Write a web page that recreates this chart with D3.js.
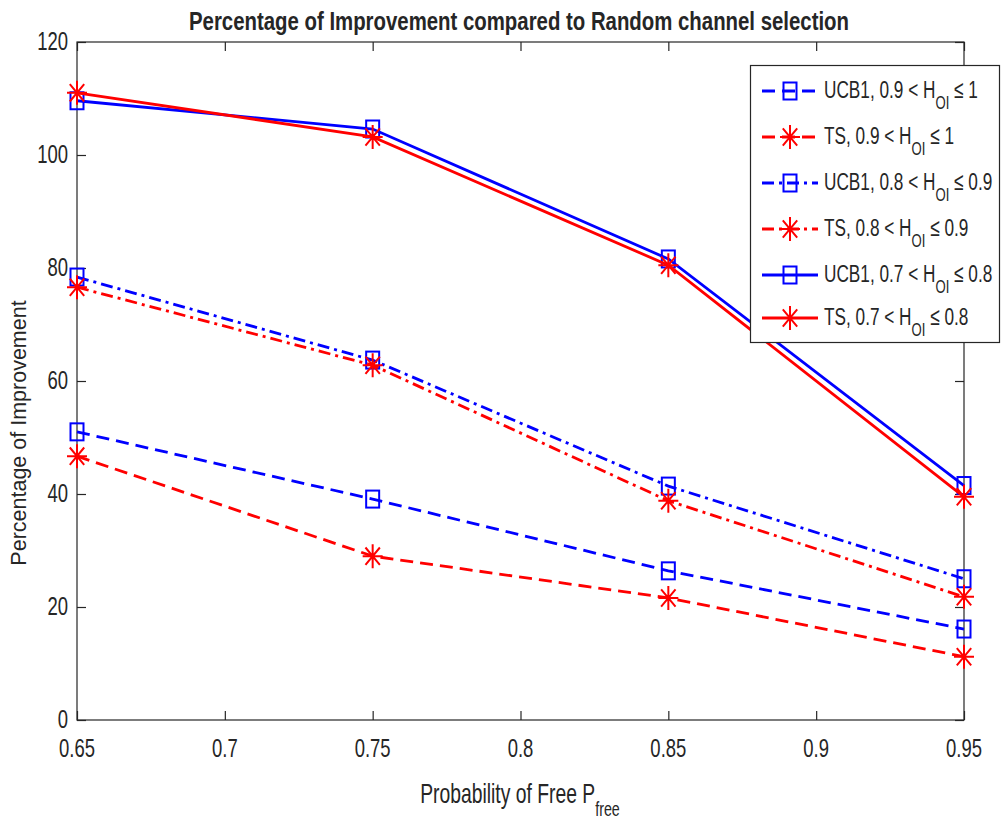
<!DOCTYPE html>
<html><head><meta charset="utf-8">
<script src="https://cdn.jsdelivr.net/npm/d3@7"></script>
<style>
body{margin:0;background:#fff;}
text{font-family:"Liberation Sans",Arial,sans-serif;fill:#262626;}
</style></head>
<body><svg id="c" width="1001" height="820"></svg>
<script>
const xValues = [0.65, 0.75, 0.85, 0.95];
const xTicks = [0.65, 0.7, 0.75, 0.8, 0.85, 0.9, 0.95];
const yTicks = [0, 20, 40, 60, 80, 100, 120];
const seriesNames = ["UCB1, 0.9 < H", "TS, 0.9 < H", "UCB1, 0.8 < H", "TS, 0.8 < H", "UCB1, 0.7 < H", "TS, 0.7 < H"];
const seriesTails = [" ≤ 1", " ≤ 1", " ≤ 0.9", " ≤ 0.9", " ≤ 0.8", " ≤ 0.8"];
const ucb1_09 = [51.0, 39.1, 26.4, 16.1];
const ts_09   = [46.7, 29.0, 21.6, 11.2];
const ucb1_08 = [78.4, 63.7, 41.4, 25.0];
const ts_08   = [76.6, 62.8, 38.8, 21.8];
const ucb1_07 = [109.6, 104.6, 81.6, 41.5];
const ts_07   = [111.0, 103.2, 80.5, 39.5];

const seriesData = [ucb1_09, ts_09, ucb1_08, ts_08, ucb1_07, ts_07];
const colors = ["#0000ff","#ff0000","#0000ff","#ff0000","#0000ff","#ff0000"];
const dashes = ["13,7","13,7","12,5,3,5","12,5,3,5",null,null];
const markers = ["sq","st","sq","st","sq","st"];

const svg = d3.select("#c");
const L=77, R=964, T=42, B=720;
const x = d3.scaleLinear().domain([0.65,0.95]).range([L,R]);
const y = d3.scaleLinear().domain([0,120]).range([B,T]);
const axC = "#262626";
const SX = 0.84, SY = 1.15;

function ntext(parent, px, py, anchor, size, str, sx=SX, sy=SY){
  return parent.append("text")
    .attr("transform",`translate(${px},${py}) scale(${sx},${sy})`)
    .attr("text-anchor",anchor).style("font-size",size+"px").attr("fill",axC).text(str);
}

svg.append("rect").attr("x",L).attr("y",T).attr("width",R-L).attr("height",B-T)
  .attr("fill","none").attr("stroke",axC).attr("stroke-width",1.2);

const xa = svg.append("g").attr("transform",`translate(0,${B})`)
  .call(d3.axisBottom(x).tickValues(xTicks).tickSize(-9).tickFormat(""));
const xaT = svg.append("g").attr("transform",`translate(0,${T})`)
  .call(d3.axisTop(x).tickValues(xTicks).tickSize(-9).tickFormat(""));
const ya = svg.append("g").attr("transform",`translate(${L},0)`)
  .call(d3.axisLeft(y).tickValues(yTicks).tickSize(-9).tickFormat(""));
const yaR = svg.append("g").attr("transform",`translate(${R},0)`)
  .call(d3.axisRight(y).tickValues(yTicks).tickSize(-9).tickFormat(""));
[xa,xaT,ya,yaR].forEach(g=>{
  g.select(".domain").remove();
  g.selectAll(".tick line").attr("stroke",axC).attr("stroke-width",1.2);
});
xTicks.forEach(t=>ntext(svg, x(t), 757, "middle", 22, String(t)));
yTicks.forEach(t=>ntext(svg, L-9, y(t)+8, "end", 22, String(t)));

function starPath(cx,cy,rx,ry){
  const dx=rx*0.72, dy=ry*0.72;
  return `M${cx-rx},${cy}L${cx+rx},${cy}M${cx},${cy-ry}L${cx},${cy+ry}`+
         `M${cx-dx},${cy-dy}L${cx+dx},${cy+dy}M${cx-dx},${cy+dy}L${cx+dx},${cy-dy}`;
}
function drawMarker(g,type,cx,cy,col){
  if(type==="sq"){
    g.append("rect").attr("x",cx-6.5).attr("y",cy-8.5).attr("width",13).attr("height",17)
     .attr("fill","none").attr("stroke",col).attr("stroke-width",2);
  } else {
    g.append("path").attr("d",starPath(cx,cy,10,12)).attr("stroke",col).attr("stroke-width",2).attr("fill","none");
  }
}

const line = d3.line().x((d,i)=>x(xValues[i])).y(d=>y(d));
seriesData.forEach((vals,k)=>{
  const g = svg.append("g");
  g.append("path").attr("d",line(vals)).attr("fill","none").attr("stroke",colors[k])
   .attr("stroke-width",2.8).attr("stroke-dasharray",dashes[k]);
  vals.forEach((v,i)=>drawMarker(g,markers[k],x(xValues[i]),y(v),colors[k]));
});

svg.append("text").attr("transform","translate(519,30) scale(1,1.12)").attr("text-anchor","middle")
  .attr("textLength",660).attr("lengthAdjust","spacingAndGlyphs")
  .style("font-size","23px").style("font-weight","bold").attr("fill","#000")
  .text("Percentage of Improvement compared to Random channel selection");

const xl = ntext(svg, 520, 803, "middle", 23, null, 0.84, 1.18);
xl.append("tspan").text("Probability of Free P");
xl.append("tspan").attr("dy",11).style("font-size","17px").text("free");

svg.append("text").attr("transform","translate(26,433) rotate(-90)").attr("text-anchor","middle")
  .style("font-size","21.5px").attr("fill",axC)
  .text("Percentage of Improvement");

const lg = svg.append("g");
lg.append("rect").attr("x",750.5).attr("y",65.5).attr("width",249).attr("height",277)
  .attr("fill","#fff").attr("stroke",axC).attr("stroke-width",1.2);
const legY = [91,137,183,229,275,318];
seriesNames.forEach((nm,k)=>{
  const yy = legY[k];
  lg.append("line").attr("x1",762).attr("x2",818).attr("y1",yy).attr("y2",yy)
    .attr("stroke",colors[k]).attr("stroke-width",2.8).attr("stroke-dasharray",dashes[k]);
  drawMarker(lg,markers[k],790,yy,colors[k]);
  const t = ntext(lg, 824, yy+7, "start", 21, null, 0.82, 1.18).attr("fill","#000");
  t.append("tspan").text(nm);
  t.append("tspan").attr("dy",9).style("font-size","16px").text("OI");
  t.append("tspan").attr("dy",-9).text(seriesTails[k]);
});
</script></body></html>
